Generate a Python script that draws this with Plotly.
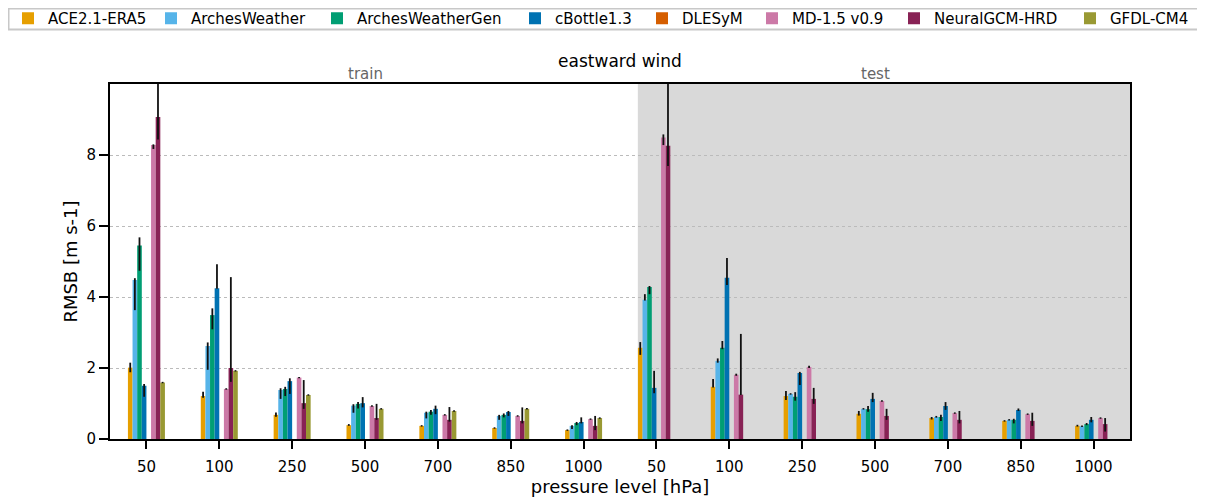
import plotly.graph_objects as go

levels = ["50", "100", "250", "500", "700", "850", "1000",
          "50", "100", "250", "500", "700", "850", "1000"]
models = ["ACE2.1-ERA5", "ArchesWeather", "ArchesWeatherGen", "cBottle1.3",
          "DLESyM", "MD-1.5 v0.9", "NeuralGCM-HRD", "GFDL-CM4"]
colors = ["#E69F00", "#56B4E9", "#009E73", "#0072B2",
          "#D55E00", "#CC79A7", "#882255", "#999933"]

# values (train 7 levels, then test 7 levels)
ace = [2.01, 1.21, 0.68, 0.39, 0.37, 0.31, 0.25, 2.57, 1.47, 1.21, 0.71, 0.59, 0.51, 0.37]
ace_hi = [2.15, 1.33, 0.75, 0.42, 0.39, 0.33, 0.27, 2.73, 1.69, 1.35, 0.79, 0.62, 0.53, 0.40]
ace_lo = [1.88, 1.16, 0.63, 0.37, 0.35, 0.29, 0.23, 2.37, 1.45, 1.10, 0.66, 0.55, 0.49, 0.35]

aw = [4.48, 2.62, 1.38, 0.94, 0.74, 0.65, 0.37, 3.92, 2.20, 1.27, 0.85, 0.62, 0.54, 0.36]
aw_hi = [4.53, 2.72, 1.43, 0.98, 0.77, 0.68, 0.39, 4.08, 2.27, 1.29, 0.87, 0.65, 0.56, 0.38]
aw_lo = [3.63, 1.95, 1.13, 0.74, 0.58, 0.54, 0.28, 3.90, 2.15, 1.25, 0.83, 0.60, 0.52, 0.34]

awg = [5.45, 3.49, 1.41, 0.99, 0.77, 0.68, 0.45, 4.28, 2.57, 1.19, 0.84, 0.62, 0.54, 0.42]
awg_hi = [5.68, 3.68, 1.47, 1.04, 0.82, 0.72, 0.48, 4.31, 2.76, 1.32, 0.93, 0.68, 0.57, 0.45]
awg_lo = [4.74, 3.09, 1.21, 0.86, 0.68, 0.61, 0.39, 4.08, 2.53, 1.08, 0.77, 0.51, 0.44, 0.39]

cb = [1.50, 4.25, 1.63, 1.01, 0.85, 0.76, 0.48, 1.44, 4.54, 1.86, 1.13, 0.93, 0.82, 0.54]
cb_hi = [1.55, 4.92, 1.71, 1.18, 0.94, 0.79, 0.61, 1.92, 5.10, 1.89, 1.30, 1.04, 0.86, 0.62]
cb_lo = [1.19, 4.23, 1.27, 0.89, 0.70, 0.65, 0.44, 1.29, 4.34, 1.52, 1.04, 0.82, 0.79, 0.47]

dl = [None] * 14

md = [8.28, 1.41, 1.73, 0.93, 0.68, 0.65, 0.56, 8.49, 1.81, 2.03, 1.07, 0.73, 0.70, 0.59]
md_hi = [8.30, 1.43, 1.75, 0.95, 0.70, 0.67, 0.58, 8.58, 1.84, 2.06, 1.09, 0.75, 0.72, 0.61]
md_lo = [8.17, 1.39, 1.71, 0.91, 0.66, 0.63, 0.54, 8.28, 1.78, 2.00, 1.05, 0.71, 0.68, 0.57]

ngcm = [9.07, 2.00, 1.01, 0.59, 0.54, 0.51, 0.37, 8.26, 1.25, 1.13, 0.65, 0.54, 0.51, 0.42]
ngcm_hi = [10.6, 4.56, 1.66, 0.99, 0.90, 0.89, 0.65, 10.6, 2.96, 1.44, 0.85, 0.79, 0.74, 0.59]
ngcm_lo = [8.44, 1.61, 0.85, 0.54, 0.49, 0.44, 0.25, 7.69, 1.24, 0.99, 0.54, 0.44, 0.37, 0.21]

gfdl = [1.59, 1.92, 1.24, 0.85, 0.79, 0.85, 0.59] + [None] * 7
gfdl_hi = [1.61, 1.94, 1.26, 0.87, 0.81, 0.87, 0.61] + [None] * 7
gfdl_lo = [1.57, 1.90, 1.22, 0.83, 0.77, 0.83, 0.57] + [None] * 7

series = [(ace, ace_hi, ace_lo), (aw, aw_hi, aw_lo), (awg, awg_hi, awg_lo),
          (cb, cb_hi, cb_lo), (dl, dl, dl), (md, md_hi, md_lo),
          (ngcm, ngcm_hi, ngcm_lo), (gfdl, gfdl_hi, gfdl_lo)]

# legend swatch centres (page pixels), one small legend per entry
legend_centres = [22, 171, 337, 535, 662, 772, 914, 1090]

xpos = list(range(len(levels)))
n = len(models)
group_w = 0.508
bw = group_w / n

OFF = 8  # default page body margin
W, H = 1197, 491
ML, MR, MT, MB = 102, 75, 76, 60
pw = W - ML - MR
ph = H - MT - MB

fig = go.Figure()
for i, (name, col, (v, hi, lo)) in enumerate(zip(models, colors, series)):
    plus = [(h - y) if (y is not None and h is not None) else None for y, h in zip(v, hi)]
    minus = [(y - l) if (y is not None and l is not None) else None for y, l in zip(v, lo)]
    fig.add_trace(go.Bar(
        x=xpos, y=v, name=name, marker_color=col, marker_line_width=0,
        width=bw, offset=-group_w / 2 + i * bw, showlegend=True,
        legend="legend" if i == 0 else f"legend{i + 1}",
        error_y=dict(type="data", symmetric=False, array=plus, arrayminus=minus,
                     color="#111111", thickness=1.8, width=0),
    ))

fig.add_shape(type="rect", xref="x", yref="paper", x0=6.745, x1=13.5, y0=0, y1=1,
              fillcolor="#d9d9d9", line_width=0, layer="below")

# legend frame (in paper coords, outside plot area)
fig.add_shape(type="rect", xref="paper", yref="paper",
              x0=(0.5 - ML) / pw, x1=(1190 - ML) / pw,
              y0=1 + (MT - 21.5) / ph, y1=1 + (MT - 0.5) / ph,
              line=dict(color="#c8c8c8", width=2), fillcolor="rgba(0,0,0,0)", layer="above")

for xv, txt in [(3, "train"), (10, "test")]:
    fig.add_annotation(x=xv, y=1, xref="x", yref="paper", text=txt, showarrow=False,
                       yanchor="bottom", yshift=-1, font=dict(size=15, color="#666666"))

legends = {}
for i, c in enumerate(legend_centres):
    key = "legend" if i == 0 else f"legend{i + 1}"
    legends[key] = dict(orientation="h", xref="container", xanchor="left",
                        x=(c - OFF - 20) / W,
                        yref="container", yanchor="middle", y=1 - 10.5 / H,
                        bgcolor="rgba(255,255,255,0)", borderwidth=0,
                        font=dict(size=15, color="black"))

fig.update_layout(
    width=W, height=H,
    barmode="overlay",
    showlegend=True,
    plot_bgcolor="white", paper_bgcolor="white",
    font=dict(family="DejaVu Sans", size=15, color="black"),
    margin=dict(l=ML, r=MR, t=MT, b=MB, autoexpand=False),
    title=dict(text="eastward wind", x=0.5, xref="paper", xanchor="center",
               y=1, yref="paper", yanchor="bottom", pad=dict(b=17),
               font=dict(size=17, color="black")),
    xaxis=dict(range=[-0.5, 13.5], tickmode="array", tickvals=xpos, ticktext=levels,
               automargin=False,
               showline=True, linecolor="black", linewidth=2, mirror=True,
               ticks="outside", ticklen=8, tickwidth=2, tickcolor="black",
               ticklabelstandoff=5,
               showgrid=False, zeroline=False,
               title=dict(text="pressure level [hPa]", font=dict(size=18), standoff=4)),
    yaxis=dict(range=[0, 10], tickvals=[0, 2, 4, 6, 8],
               automargin=False,
               showline=True, linecolor="black", linewidth=2, mirror=True,
               ticks="outside", ticklen=9, tickwidth=2, tickcolor="black",
               showgrid=True, gridcolor="#bbbbbb", griddash="dot", gridwidth=1,
               zeroline=False,
               title=dict(text="RMSB [m s-1]", font=dict(size=18), standoff=4)),
    **legends,
)

fig.write_html("out.html")
